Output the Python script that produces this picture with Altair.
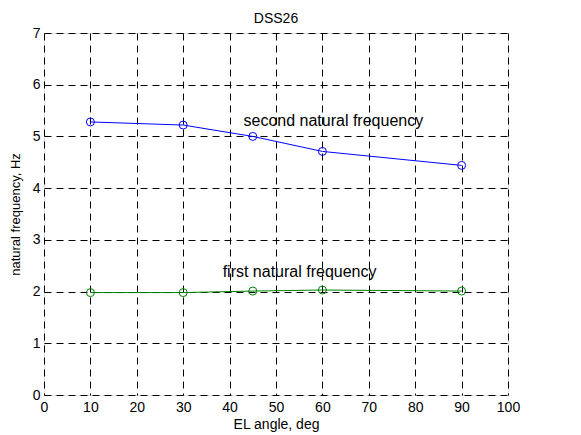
import altair as alt
import pandas as pd

angles = [10, 30, 45, 60, 90]
second_freq = [5.28, 5.22, 5.00, 4.71, 4.44]
first_freq = [1.98, 1.98, 2.01, 2.03, 2.01]

label_text = ["second natural frequency", "first natural frequency"]
label_x = [43.0, 38.5]
label_y = [5.3, 2.37]

df = pd.DataFrame({
    "angle": angles * 2,
    "freq": second_freq + first_freq,
    "series": ["second"] * 5 + ["first"] * 5,
})
labels = pd.DataFrame({"x": label_x, "y": label_y, "text": label_text})

FONT = "Liberation Sans"
xs = alt.Scale(domain=[0, 100], nice=False, zero=False)
ys = alt.Scale(domain=[0, 7], nice=False, zero=False)
color = alt.Scale(domain=["second", "first"], range=["#0000ff", "#008000"])

x_axis = alt.Axis(values=list(range(0, 101, 10)), format="d", title="EL angle, deg",
                  grid=True, gridColor="black", gridDash=[7, 5], gridOpacity=1, gridWidth=1,
                  domain=False, ticks=False, labelFlush=False, labelFont=FONT, labelFontSize=14,
                  labelColor="black", labelPadding=5, titleFont=FONT, titleFontSize=14,
                  titleFontWeight="normal", titleColor="black", titlePadding=3)
y_axis = alt.Axis(values=list(range(0, 8)), format="d", title="natural frequency, Hz",
                  grid=True, gridColor="black", gridDash=[7, 5], gridOpacity=1, gridWidth=1,
                  domain=False, ticks=False, labelFlush=False, labelFont=FONT, labelFontSize=14,
                  labelColor="black", labelPadding=4, titleFont=FONT, titleFontSize=13,
                  titleFontWeight="normal", titleColor="black", titlePadding=10)

base = alt.Chart(df).encode(
    x=alt.X("angle:Q", scale=xs, axis=x_axis),
    y=alt.Y("freq:Q", scale=ys, axis=y_axis),
    color=alt.Color("series:N", scale=color, legend=None),
)
lines = base.mark_line(strokeWidth=1)
points = base.mark_point(shape="circle", size=64, strokeWidth=1, filled=False, opacity=1)

texts = alt.Chart(labels).mark_text(align="left", baseline="middle", font=FONT,
                                    fontSize=16, color="black").encode(
    x=alt.X("x:Q", scale=xs), y=alt.Y("y:Q", scale=ys), text="text:N")

chart = alt.layer(lines, points, texts).properties(
    width=464, height=362,
    title=alt.TitleParams("DSS26", font=FONT, fontSize=14, fontWeight="normal",
                          color="black", offset=0),
    autosize=alt.AutoSizeParams(type="none"),
    padding={"left": 36, "top": 25, "right": 30, "bottom": 38},
).configure_view(stroke="black", strokeWidth=1.5).configure(background="white")

chart.save("out.html", embed_options={"renderer": "svg", "actions": False})
